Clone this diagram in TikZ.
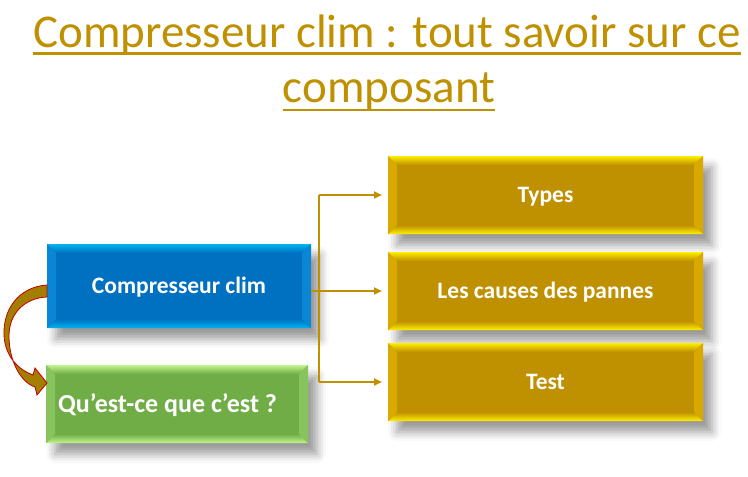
\documentclass[tikz,border=0pt]{standalone}
\usepackage{fontspec}
\setmainfont{Carlito}
\usetikzlibrary{arrows.meta,positioning,shadows.blur}
\definecolor{cgold}{HTML}{BF9000}
\definecolor{cgoldlt}{HTML}{FFEE00}
\definecolor{cgoldmd}{HTML}{D9A900}
\definecolor{cblue}{HTML}{0070C0}
\definecolor{cbluelt}{HTML}{00B4F2}
\definecolor{cbluemd}{HTML}{0A86D6}
\definecolor{cgreen}{HTML}{70AD47}
\definecolor{cgreenlt}{HTML}{C2F58C}
\definecolor{cgreenmd}{HTML}{88C45C}
\definecolor{carrow}{HTML}{A37E00}
\definecolor{cred}{HTML}{C00000}

\tikzset{
  % bevelled box: #1 edge colour, #2 face colour, #3 side colour
  bevel/.style n args={3}{fill=#2, path picture={
    \path (path picture bounding box.north west) coordinate (bnw)
          (path picture bounding box.north east) coordinate (bne)
          (path picture bounding box.south west) coordinate (bsw)
          (path picture bounding box.south east) coordinate (bse);
    \shade[top color=#1, bottom color=#2] (bnw) -- (bne) -- ([shift={(-9pt,-9pt)}]bne) -- ([shift={(9pt,-9pt)}]bnw) -- cycle;
    \shade[top color=#2, bottom color=#1] (bsw) -- (bse) -- ([shift={(-9pt,9pt)}]bse) -- ([shift={(9pt,9pt)}]bsw) -- cycle;
    \fill[#3] (bnw) -- ([shift={(9pt,-9pt)}]bnw) -- ([shift={(9pt,9pt)}]bsw) -- (bsw) -- cycle;
    \fill[#3] (bne) -- ([shift={(-9pt,-9pt)}]bne) -- ([shift={(-9pt,9pt)}]bse) -- (bse) -- cycle;
  }},
  box/.style={inner sep=0pt, outer sep=0pt, text=white, font=\fontsize{23.5}{28}\selectfont\bfseries,
    text height=15pt, text depth=0pt,
    blur shadow={shadow xshift=9pt, shadow yshift=-11pt, shadow blur radius=9pt, shadow opacity=40}},
  goldbox/.style={box, bevel={cgoldlt}{cgold}{cgoldmd}, minimum width=315pt, minimum height=78pt},
  bluebox/.style={box, bevel={cbluelt}{cblue}{cbluemd}, minimum width=264pt, minimum height=84pt},
  greenbox/.style={box, bevel={cgreenlt}{cgreen}{cgreenmd}, minimum width=262pt, minimum height=78pt,
    font=\fontsize{26}{30}\selectfont\bfseries, text height=16.5pt},
  link/.style={cgold, line width=2.8pt, -{Triangle[length=8pt,width=7pt]}, shorten >=6pt},
  title/.style={cgold, inner sep=0pt, anchor=base, font=\fontsize{47}{56}\selectfont},
  uline/.style={cgold, line width=2.4pt},
}

\begin{document}
\begin{tikzpicture}[x=1pt, y=-1pt]
\useasboundingbox (0,0) rectangle (748,477);
%% title
\node[title] (t1) at (387,47) {Compresseur clim : tout savoir sur ce};
\node[title] (t2) at (389,102) {composant};
\draw[uline] ([yshift=-6.5pt]t1.base west) -- ([yshift=-6.5pt]t1.base east);
\draw[uline] ([yshift=-8pt]t2.base west) -- ([yshift=-8pt]t2.base east);
%% right column
\node[goldbox] (types) at (545.5,195) {Types};
\node[goldbox, below=18pt of types] (causes) {Les causes des pannes};
\node[goldbox, below=13pt of causes] (test) {Test};
%% left column
\node[bluebox] (comp) at (179,286) {Compresseur clim};
\node[greenbox] (quoi) at (177,404) {\hspace{-19pt}Qu’est-ce que c’est ?};
%% the fork
\coordinate (fork) at (319,290);
\draw[cgold, line width=2.8pt] (types.west -| fork) -- (test.west -| fork);
\draw[link] (types.west -| fork) -- (types.west);
\draw[link] (comp.east |- causes.west) -- (causes.west);
\draw[link] (test.west -| fork) -- (test.west);
%% curved arrow from the blue box down to the green one
\filldraw[fill=carrow, draw=cred, line width=0.8pt]
  (47,285) .. controls (18,287) and (3,310) .. (4,335)
  .. controls (5,357) and (19,370) .. (33,375) -- (35,368) -- (47,383) -- (37,395) -- (35,387)
  .. controls (20,382) and (9,360) .. (9,336)
  .. controls (9,313) and (25,298) .. (47,297) -- cycle;
\end{tikzpicture}
\end{document}
